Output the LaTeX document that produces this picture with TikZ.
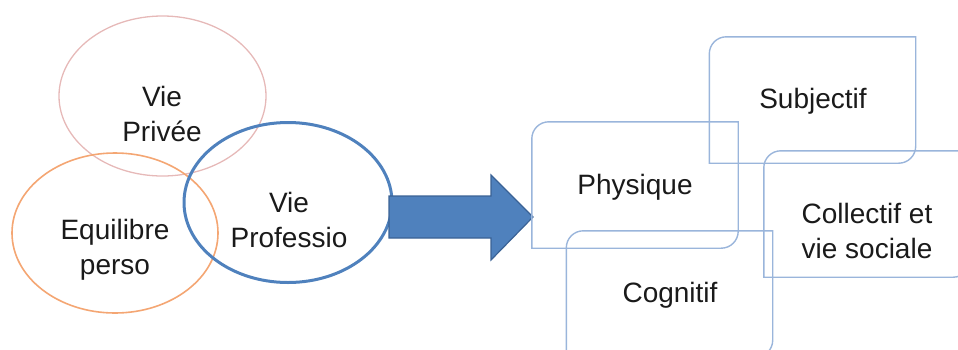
\documentclass[tikz,border=0pt]{standalone}
\usepackage{fontspec}
\setmainfont{Liberation Sans}
\usetikzlibrary{shapes.geometric}
\definecolor{pinkline}{HTML}{E6B9B8}
\definecolor{orangeline}{HTML}{F4A673}
\definecolor{blueline}{HTML}{4F81BD}
\definecolor{arrowedge}{HTML}{3A6295}
\definecolor{boxline}{HTML}{9AB5DB}
\definecolor{txt}{HTML}{1A1A1A}
\tikzset{
  lbl/.style={align=center, text=txt, font=\fontsize{28}{35}\selectfont, inner sep=0pt},
  oval/.style={ellipse, minimum width=#1, minimum height=160pt, inner sep=0pt},
  box/.style={rectangle, minimum width=206pt, minimum height=126pt, inner sep=0pt},
  boxdraw/.style={draw=boxline, line width=1.4pt},
}
\newcommand{\diagbox}[1]{%
  \draw[boxdraw] (#1.south west) -- ([yshift=-17pt]#1.north west)
    arc[start angle=180, end angle=90, radius=17pt] -- (#1.north east)
    -- ([yshift=17pt]#1.south east)
    arc[start angle=0, end angle=-90, radius=17pt] -- cycle;}
\begin{document}
\begin{tikzpicture}[x=1pt, y=-1pt]
\useasboundingbox (0,0) rectangle (958,349);
\clip (0,0) rectangle (958,349);
% ellipses
\node[oval=207pt, draw=pinkline, line width=1.3pt] (priv) at (162.5,96) {};
\node[oval=206pt, draw=orangeline, line width=1.6pt] (equi) at (115,233) {};
\node[oval=208pt, draw=blueline, line width=3pt] (prof) at (288,202.5) {};
\node[lbl] (privt) at (162,114) {Vie\\Privée};
\node[lbl] (equit) at (115,250) {Equilibre\\perso};
\node[lbl] (proft) at (289,220) {Vie\\Professio};
% block arrow
\coordinate (a1) at (389,196);
\coordinate (a2) at (491,196);
\coordinate (a3) at (491,175);
\coordinate (tip) at (533,217);
\coordinate (a5) at (491,260);
\coordinate (a6) at (491,238);
\coordinate (a7) at (389,238);
\draw[fill=blueline, draw=arrowedge, line width=1.2pt, line join=miter]
  (a1) -- (a2) -- (a3) -- (tip) -- (a5) -- (a6) -- (a7) -- cycle;
% boxes
\node[box] (subj) at (812.5,100) {};
\node[box] (phys) at (635,185) {};
\node[box] (coll) at (867,214) {};
\node[box] (cogn) at (669.5,294) {};
\diagbox{subj}
\diagbox{phys}
\diagbox{coll}
\diagbox{cogn}
\node[lbl] (subjt) at (813,101) {Subjectif};
\node[lbl] (physt) at (635,187) {Physique};
\node[lbl] (collt) at (867,231) {Collectif et\\vie sociale};
\node[lbl] (cognt) at (670,295) {Cognitif};
\end{tikzpicture}
\end{document}
